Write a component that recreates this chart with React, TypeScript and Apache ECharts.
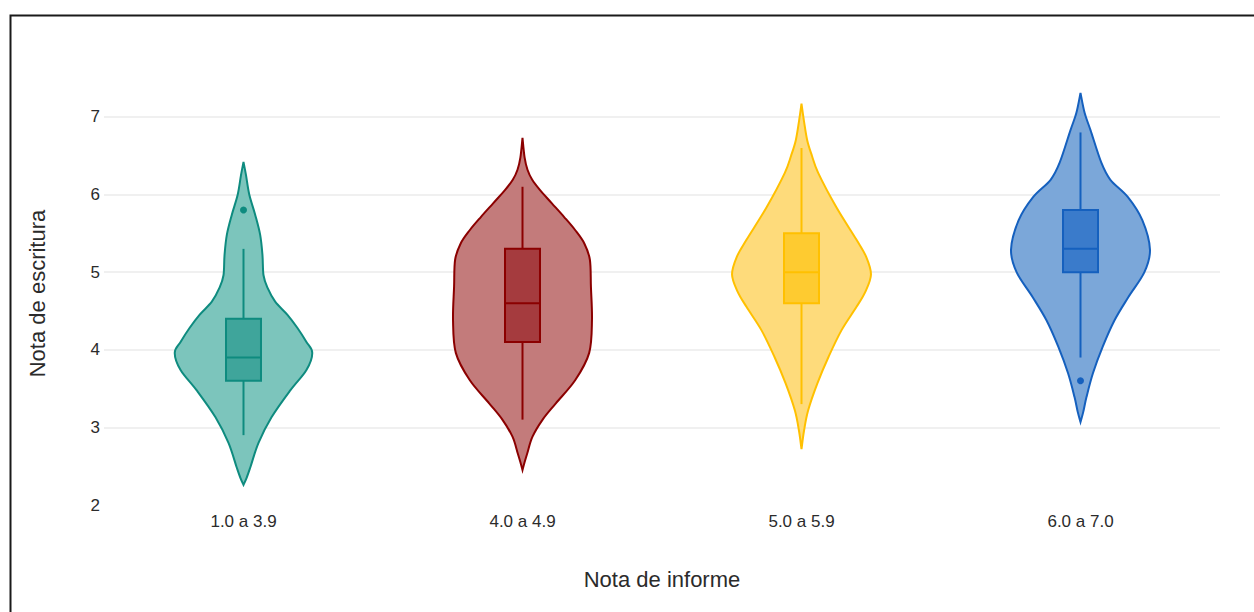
import React, { useEffect, useRef } from "react";
import * as echarts from "echarts";

const categories = ["1.0 a 3.9", "4.0 a 4.9", "5.0 a 5.9", "6.0 a 7.0"];
const yTicks = [2, 3, 4, 5, 6, 7];

const whiskerLow = [2.9, 3.1, 3.3, 3.9];
const quartile1 = [3.6, 4.1, 4.6, 5.0];
const medians = [3.9, 4.6, 5.0, 5.3];
const quartile3 = [4.4, 5.3, 5.5, 5.8];
const whiskerHigh = [5.3, 6.1, 6.6, 6.8];
const outliers = [[5.8], [], [], [3.6]];

// [value, relative half-width] from top tip to bottom tip
const violin1 = [
  [6.42, 0], [6.25, 0.036], [6.0, 0.083], [5.74, 0.168], [5.48, 0.24], [5.22, 0.273],
  [4.96, 0.288], [4.8, 0.345], [4.62, 0.456], [4.45, 0.633], [4.28, 0.777], [4.1, 0.906],
  [3.96, 0.99], [3.74, 0.906], [3.48, 0.676], [3.13, 0.403], [2.8, 0.216], [2.49, 0.1],
  [2.35, 0.045], [2.26, 0],
];
const violin2 = [
  [6.73, 0], [6.48, 0.03], [6.32, 0.072], [6.19, 0.14], [6.06, 0.25], [5.89, 0.42],
  [5.71, 0.6], [5.54, 0.76], [5.37, 0.89], [5.16, 0.97], [4.81, 0.985], [4.38, 1],
  [3.96, 0.96], [3.61, 0.76], [3.31, 0.48], [3.1, 0.29], [2.88, 0.144], [2.67, 0.07],
  [2.55, 0.03], [2.45, 0],
];
const violin3 = [
  [7.17, 0], [6.95, 0.035], [6.7, 0.082], [6.5, 0.15], [6.28, 0.24], [5.84, 0.5],
  [5.42, 0.79], [5.2, 0.93], [4.97, 1], [4.75, 0.92], [4.55, 0.79], [4.25, 0.575],
  [3.91, 0.39], [3.57, 0.23], [3.22, 0.096], [2.95, 0.035], [2.72, 0],
];
const violin4 = [
  [7.31, 0], [7.05, 0.06], [6.83, 0.144], [6.41, 0.3], [6.19, 0.43], [5.97, 0.68],
  [5.67, 0.89], [5.29, 1], [5.0, 0.92], [4.68, 0.69], [4.38, 0.49], [4.04, 0.32],
  [3.7, 0.18], [3.39, 0.086], [3.2, 0.04], [3.07, 0],
];
const violins = [violin1, violin2, violin3, violin4];

const strokeColors = ["#0e8b7f", "#8b0000", "#ffc000", "#1560be"];
const fillColors = ["#7cc5bc", "#c37b7b", "#fedb7b", "#7ba7d9"];
const boxColors = ["#3fa59b", "#a53b3e", "#fecb30", "#3a7bcb"];

const VIOLIN_HALF = 0.249; // fraction of category band
const BOX_HALF = 0.0627;

function catmull(points: number[][]): string {
  let d = "";
  const n = points.length;
  for (let i = 0; i < n - 1; i++) {
    const p0 = points[Math.max(0, i - 1)];
    const p1 = points[i];
    const p2 = points[i + 1];
    const p3 = points[Math.min(n - 1, i + 2)];
    const c1x = p1[0] + (p2[0] - p0[0]) / 6;
    const c1y = p1[1] + (p2[1] - p0[1]) / 6;
    const c2x = p2[0] - (p3[0] - p1[0]) / 6;
    const c2y = p2[1] - (p3[1] - p1[1]) / 6;
    d += ` C ${c1x} ${c1y} ${c2x} ${c2y} ${p2[0]} ${p2[1]}`;
  }
  return d;
}

export default function App() {
  const ref = useRef<HTMLDivElement>(null);
  useEffect(() => {
    if (!ref.current) return;
    const chart = echarts.init(ref.current, null, { renderer: "svg" });
    const font = "'Liberation Sans', Arial, sans-serif";

    const renderItem = (params: any, api: any) => {
      const i = params.dataIndex;
      const band = api.size([1, 0])[0];
      const cx = api.coord([i, medians[i]])[0];
      const prof = violins[i];
      const right = prof.map((p) => {
        const pt = api.coord([i, p[0]]);
        return [cx + p[1] * VIOLIN_HALF * band, pt[1]];
      });
      const left = prof
        .map((p) => {
          const pt = api.coord([i, p[0]]);
          return [cx - p[1] * VIOLIN_HALF * band, pt[1]];
        })
        .reverse();
      const pathData =
        `M ${right[0][0]} ${right[0][1]}` + catmull(right) + catmull(left) + " Z";
      const bw = BOX_HALF * band;
      const yq1 = api.coord([i, quartile1[i]])[1];
      const yq3 = api.coord([i, quartile3[i]])[1];
      const ymed = api.coord([i, medians[i]])[1];
      const ylo = api.coord([i, whiskerLow[i]])[1];
      const yhi = api.coord([i, whiskerHigh[i]])[1];
      const stroke = strokeColors[i];
      const children: any[] = [
        {
          type: "path",
          shape: { pathData },
          style: { fill: fillColors[i], stroke, lineWidth: 2 },
        },
        {
          type: "line",
          shape: { x1: cx, y1: yq3, x2: cx, y2: yhi },
          style: { stroke, lineWidth: 2 },
        },
        {
          type: "line",
          shape: { x1: cx, y1: yq1, x2: cx, y2: ylo },
          style: { stroke, lineWidth: 2 },
        },
        {
          type: "rect",
          shape: { x: cx - bw, y: yq3, width: 2 * bw, height: yq1 - yq3 },
          style: { fill: boxColors[i], stroke, lineWidth: 2 },
        },
        {
          type: "line",
          shape: { x1: cx - bw, y1: ymed, x2: cx + bw, y2: ymed },
          style: { stroke, lineWidth: 2 },
        },
      ];
      outliers[i].forEach((v) => {
        const pt = api.coord([i, v]);
        children.push({
          type: "circle",
          shape: { cx, cy: pt[1], r: 3.5 },
          style: { fill: stroke },
        });
      });
      return { type: "group", children };
    };

    chart.setOption({
      animation: false,
      backgroundColor: "#ffffff",
      textStyle: { fontFamily: font },
      graphic: [
        {
          type: "rect",
          left: 8,
          top: 13,
          shape: { x: 0, y: 0, width: 1400, height: 800 },
          style: { fill: "none", stroke: "#1a1a1a", lineWidth: 2 },
          silent: true,
        },
      ],
      grid: { left: 104, right: 34, top: 82, bottom: 107, containLabel: false },
      xAxis: {
        type: "category",
        data: categories,
        name: "Nota de informe",
        nameLocation: "middle",
        nameGap: 63,
        nameTextStyle: { fontSize: 22, color: "#2b2b2b", fontFamily: font },
        axisLine: { show: false },
        axisTick: { show: false },
        axisLabel: { fontSize: 17, color: "#2b2b2b", margin: 8, fontFamily: font },
        splitLine: { show: false },
      },
      yAxis: {
        type: "value",
        min: 2,
        max: 7.45,
        interval: 1,
        name: "Nota de escritura",
        nameLocation: "middle",
        nameGap: 56,
        nameTextStyle: { fontSize: 22, color: "#2b2b2b", fontFamily: font },
        axisLine: { show: false },
        axisTick: { show: false },
        axisLabel: {
          fontSize: 17,
          color: "#2b2b2b",
          margin: 4,
          fontFamily: font,
          formatter: (v: number) => (yTicks.includes(v) ? String(v) : ""),
        },
        splitLine: {
          show: true,
          showMinLine: false,
          showMaxLine: false,
          lineStyle: { color: "#ebebeb", width: 1.5 },
        },
      },
      series: [
        {
          type: "custom",
          renderItem,
          clip: false,
          encode: { x: 0, y: 1 },
          data: categories.map((_, i) => [i, medians[i]]),
        },
      ],
    });
    return () => chart.dispose();
  }, []);
  return (
    <div
      ref={ref}
      style={{ position: "fixed", left: 0, top: 0, width: 1254, height: 612 }}
    />
  );
}
